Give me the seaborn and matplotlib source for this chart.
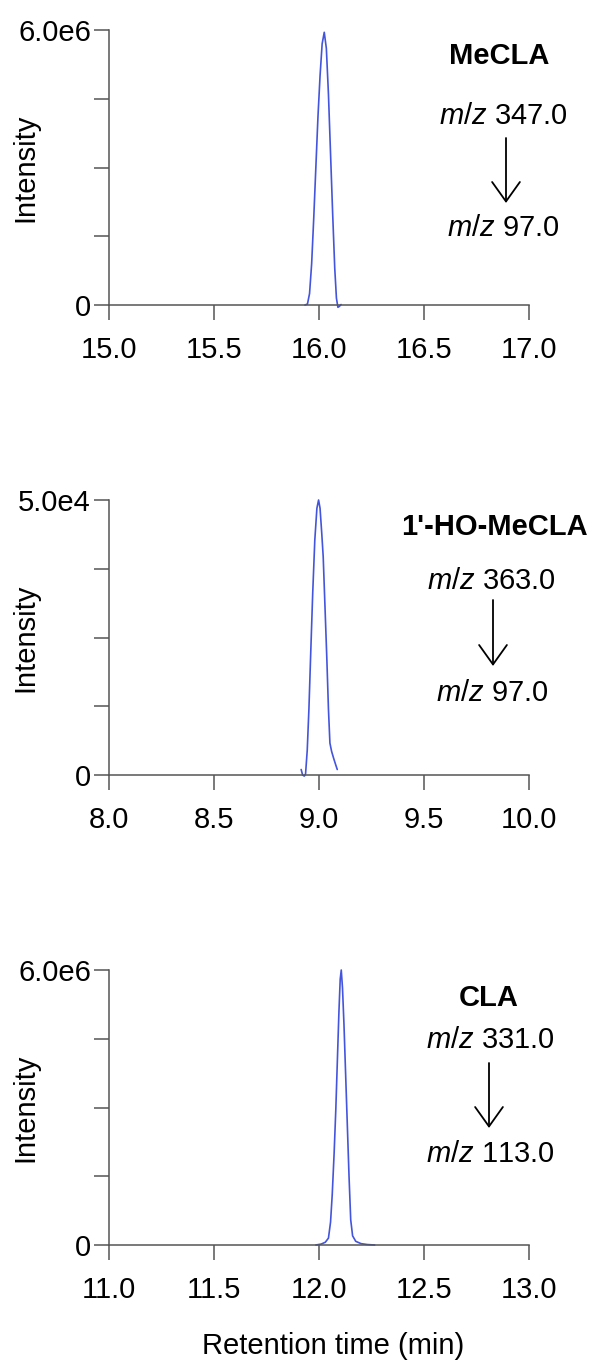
import matplotlib
matplotlib.use('Agg')
import matplotlib.pyplot as plt
import seaborn as sns
import numpy as np

# chromatogram traces (time in min, intensity in counts)
mecla_t = [15.933, 15.945, 15.955, 15.965, 15.975, 15.985, 15.995, 16.005, 16.015, 16.025,
           16.035, 16.045, 16.055, 16.065, 16.075, 16.083, 16.090, 16.097, 16.105]
mecla_i = [0.0, 0.02, 0.25, 0.9, 1.9, 3.0, 4.1, 5.0, 5.7, 5.95,
           5.6, 4.6, 3.3, 2.0, 0.8, 0.15, -0.05, -0.03, 0.01]
mecla_i = [v * 1e6 for v in mecla_i]

homecla_t = [8.915, 8.922, 8.930, 8.936, 8.944, 8.952, 8.960, 8.970, 8.980, 8.990, 8.998,
             9.005, 9.013, 9.020, 9.030, 9.037, 9.045, 9.052, 9.060, 9.070, 9.080, 9.087]
homecla_i = [1.0, 0.0, -0.2, 0.2, 4.5, 12.0, 21.5, 33.0, 42.7, 48.5, 50.0,
             48.5, 44.0, 39.7, 29.0, 21.5, 12.0, 5.8, 4.3, 3.0, 1.8, 1.0]
homecla_i = [v * 1e3 for v in homecla_i]

cla_t = [11.985, 12.010, 12.030, 12.045, 12.055, 12.063, 12.072, 12.080, 12.088, 12.095, 12.101,
         12.106, 12.112, 12.119, 12.127, 12.135, 12.143, 12.151, 12.160, 12.175, 12.200, 12.230, 12.265]
cla_i = [0.0, 0.02, 0.06, 0.15, 0.5, 1.1, 2.0, 2.95, 4.1, 5.1, 5.8,
         6.0, 5.6, 4.8, 3.7, 2.6, 1.5, 0.55, 0.2, 0.08, 0.03, 0.01, 0.0]
cla_i = [v * 1e6 for v in cla_i]

compounds = ["MeCLA", "1'-HO-MeCLA", "CLA"]
precursor = ["347.0", "363.0", "331.0"]
product = ["97.0", "97.0", "113.0"]
x_ranges = [(15.0, 17.0), (8.0, 10.0), (11.0, 13.0)]
y_tops = [6.0e6, 5.0e4, 6.0e6]
y_top_labels = ["6.0e6", "5.0e4", "6.0e6"]

traces = [(mecla_t, mecla_i), (homecla_t, homecla_i), (cla_t, cla_i)]

sns.set_style('white')
plt.rcParams['font.family'] = ['Liberation Sans', 'DejaVu Sans']
plt.rcParams['mathtext.fontset'] = 'custom'
plt.rcParams['mathtext.rm'] = 'Liberation Sans'
plt.rcParams['mathtext.it'] = 'Liberation Sans:italic'
plt.rcParams['text.color'] = 'black'

W, H = 591, 1363
fig = plt.figure(figsize=(W / 100, H / 100), dpi=100)

# axes placement in pixels: (top, bottom)
panel_px = [(30, 305), (500, 775), (970, 1245)]
left_px, right_px = 109, 529
# annotation positions in pixels
name_xy = [(499, 56), (494, 527), (489, 998)]
pre_xy = [(503, 116), (491, 581), (490, 1040)]
arrow_px = [(506, 138, 203), (493, 600, 666), (489, 1063, 1128)]
prod_xy = [(503, 228), (492, 693), (490, 1154)]

spine_col = '#555555'
line_col = '#4455dd'
fs = 21

def fx(px):
    return px / W

def fy(py):
    return 1 - py / H

for k in range(3):
    top, bot = panel_px[k]
    ax = fig.add_axes([fx(left_px), fy(bot), (right_px - left_px) / W, (bot - top) / H])
    t, inten = traces[k]
    sns.lineplot(x=t, y=inten, ax=ax, color=line_col, linewidth=1.2)
    ax.lines[-1].set_clip_on(False)
    ax.set_xlim(*x_ranges[k])
    ax.set_ylim(0, y_tops[k])
    xt = np.arange(x_ranges[k][0], x_ranges[k][1] + 0.01, 0.5)
    ax.set_xticks(xt)
    ax.set_xticklabels([f"{v:.1f}" for v in xt])
    yt = np.linspace(0, y_tops[k], 5)
    ax.set_yticks(yt)
    ax.set_yticklabels(["0", "", "", "", y_top_labels[k]])
    for s in ['top', 'right']:
        ax.spines[s].set_visible(False)
    for s in ['left', 'bottom']:
        ax.spines[s].set_color(spine_col)
        ax.spines[s].set_linewidth(1.1)
    ax.tick_params(axis='both', which='major', direction='out', length=11, width=1.1,
                   color=spine_col, labelsize=fs, labelcolor='black', left=True, bottom=True)
    ax.tick_params(axis='x', pad=11)
    ax.tick_params(axis='y', pad=2)
    ax.set_ylabel('Intensity', fontsize=fs, color='black')
    ax.yaxis.set_label_coords(-0.165, 0.5)
    ax.set_xlabel('')
    if k == 2:
        ax.set_xlabel('Retention time (min)', fontsize=fs, color='black')
        ax.xaxis.set_label_coords(0.533, -0.315)

    fig.text(fx(name_xy[k][0]), fy(name_xy[k][1]), compounds[k], fontsize=fs,
             fontweight='bold', ha='center', va='center')
    fig.text(fx(pre_xy[k][0]), fy(pre_xy[k][1]), r'$m/z$ ' + precursor[k], fontsize=fs,
             ha='center', va='center')
    fig.text(fx(prod_xy[k][0]), fy(prod_xy[k][1]), r'$m/z$ ' + product[k], fontsize=fs,
             ha='center', va='center')
    ax_x, ay1, ay2 = arrow_px[k]
    ax.annotate('', xy=(fx(ax_x), fy(ay2)), xytext=(fx(ax_x), fy(ay1)),
                xycoords='figure fraction', textcoords='figure fraction',
                annotation_clip=False,
                arrowprops=dict(arrowstyle='->,head_length=0.7,head_width=0.5',
                                mutation_scale=20, lw=1.3, color='black',
                                shrinkA=0, shrinkB=0))

fig.savefig('out.png', dpi=100)
